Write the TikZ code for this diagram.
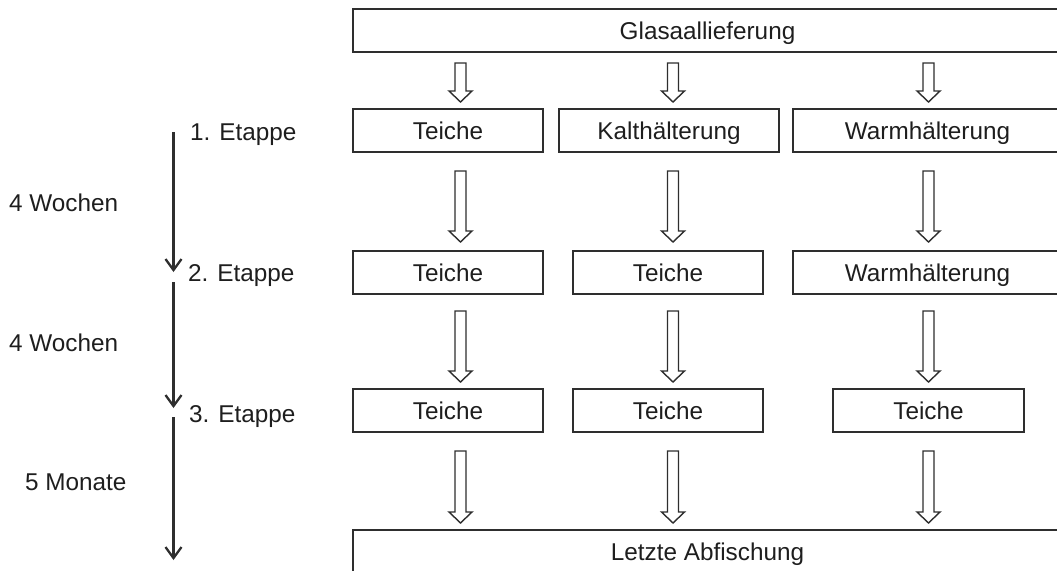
\documentclass[tikz,border=0pt]{standalone}
\usepackage{fontspec}
\setmainfont{Liberation Sans}
\usetikzlibrary{arrows.meta}
\definecolor{ink}{HTML}{1E1E1E}
\definecolor{linec}{HTML}{2E2E2E}
% hollow block arrow: x, top y, tip y (y grows downwards)
\newcommand\harrow[3]{%
  \draw[hollowarrow] (#1-5.5,#2) -- (#1+5.5,#2) -- (#1+5.5,#3-11) -- (#1+11.5,#3-11)
    -- (#1,#3) -- (#1-11.5,#3-11) -- (#1-5.5,#3-11) -- cycle;}
\begin{document}
\begin{tikzpicture}[x=1pt,y=-1pt,
  txt/.style={text=ink, font=\fontsize{24.3}{29}\selectfont},
  box/.style={txt, draw=linec, line width=1.7pt, inner sep=0pt,
    minimum height=43pt, text height=23.5pt, text depth=5pt},
  lbl/.style={txt, anchor=base west, inner sep=0pt},
  hollowarrow/.style={draw=linec, line width=1.4pt, fill=white},
  timearr/.style={draw=linec, line width=2.3pt,
    -{Straight Barb[length=11pt,width=16pt,line width=2.3pt]}}]
\useasboundingbox (0,0) rectangle (1057,570);

% boxes
\node[box, minimum width=709pt] (g) at (707.5,30.5) {Glasaallieferung};

\node[box, minimum width=190pt] (a1) at (448,130.5) {Teiche};
\node[box, minimum width=220pt] (b1) at (669,130.5) {Kalthälterung};
\node[box, minimum width=269pt] (c1) at (927.5,130.5) {Warmhälterung};

\node[box, minimum width=190pt] (a2) at (448,272.5) {Teiche};
\node[box, minimum width=190pt] (b2) at (668,272.5) {Teiche};
\node[box, minimum width=269pt] (c2) at (927.5,272.5) {Warmhälterung};

\node[box, minimum width=190pt] (a3) at (448,410.5) {Teiche};
\node[box, minimum width=190pt] (b3) at (668,410.5) {Teiche};
\node[box, minimum width=191pt] (c3) at (928.5,410.5) {Teiche};

\node[box, minimum width=709pt] (l) at (707.5,551.5) {Letzte Abfischung};

% hollow arrows
\harrow{460.5}{63}{102}
\harrow{673}{63}{102}
\harrow{928.5}{63}{102}

\harrow{460.5}{171}{242}
\harrow{673}{171}{242}
\harrow{928.5}{171}{242}

\harrow{460.5}{311}{382}
\harrow{673}{311}{382}
\harrow{928.5}{311}{382}

\harrow{460.5}{451}{523}
\harrow{673}{451}{523}
\harrow{928.5}{451}{523}

% left time line
\node[lbl] (e1) at (190,140.7) {1. Etappe};
\node[lbl] (e2) at (188,281.7) {2. Etappe};
\node[lbl] (e3) at (189,422.2) {3. Etappe};
\node[lbl] (w1) at (9,211.2) {4 Wochen};
\node[lbl] (w2) at (9,351.7) {4 Wochen};
\node[lbl] (m1) at (25,490.2) {5 Monate};

\coordinate (s1) at (173.5,132);
\coordinate (t1) at (173.5,272);
\coordinate (s2) at (173.5,282);
\coordinate (t2) at (173.5,408);
\coordinate (s3) at (173.5,417);
\coordinate (t3) at (173.5,560);
\draw[timearr] (s1) -- (t1);
\draw[timearr] (s2) -- (t2);
\draw[timearr] (s3) -- (t3);
\end{tikzpicture}
\end{document}
